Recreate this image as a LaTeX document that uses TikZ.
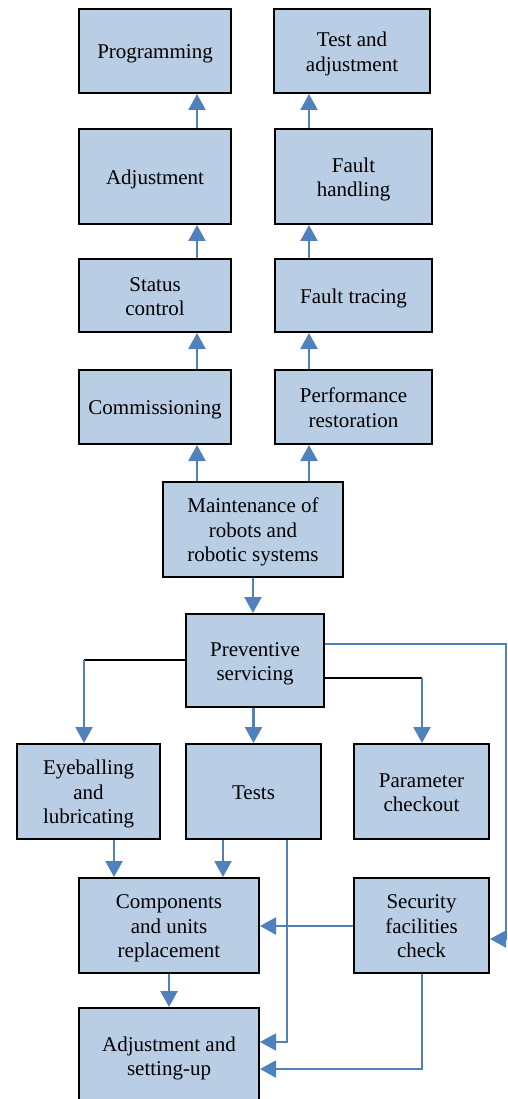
\documentclass[tikz,border=0pt]{standalone}
\usepackage{fontspec}
\setmainfont{Liberation Serif}
\usetikzlibrary{arrows.meta}
\definecolor{boxfill}{HTML}{B9CDE5}
\definecolor{arrblue}{HTML}{4F81BD}
\newcommand\bxt[1]{\raisebox{-3pt}[\height][\depth]{\begin{tabular}{@{}c@{}}#1\end{tabular}}}
\begin{document}
\begin{tikzpicture}[x=1pt,y=-1pt,
  box/.style={draw=black,line width=2pt,fill=boxfill,inner sep=0pt,
    font=\fontsize{21}{24.5}\selectfont},
  arr/.style={draw=arrblue,line width=2.4pt,-{Triangle[length=16pt,width=17pt]}},
  thinarr/.style={draw=arrblue,line width=1.6pt,-{Triangle[length=16pt,width=17pt]}},
  blk/.style={draw=black,line width=1.3pt}]
\useasboundingbox (0,0) rectangle (507,1099);
% boxes
\node[box,minimum width=152pt,minimum height=84pt] (prog) at (155,51) {\bxt{Programming}};
\node[box,minimum width=156pt,minimum height=84pt] (testadj) at (352,51) {\bxt{Test and\\adjustment}};
\node[box,minimum width=152pt,minimum height=95pt] (adj) at (155,176.5) {\bxt{Adjustment}};
\node[box,minimum width=157pt,minimum height=95pt] (fault) at (353.5,176.5) {\bxt{Fault\\handling}};
\node[box,minimum width=152pt,minimum height=73pt] (status) at (155,295.5) {\bxt{Status\\control}};
\node[box,minimum width=157pt,minimum height=73pt] (ftrace) at (353.5,295.5) {\bxt{Fault tracing}};
\node[box,minimum width=152pt,minimum height=74pt] (comm) at (155,407) {\bxt{Commissioning}};
\node[box,minimum width=157pt,minimum height=74pt] (perf) at (353.5,407) {\bxt{Performance\\restoration}};
\node[box,minimum width=180pt,minimum height=95pt] (maint) at (253,529.5) {\bxt{Maintenance of\\robots and\\robotic systems}};
\node[box,minimum width=138pt,minimum height=93pt] (prev) at (255,660.5) {\bxt{Preventive\\servicing}};
\node[box,minimum width=143pt,minimum height=95pt] (eye) at (88.5,791.5) {\bxt{Eyeballing\\and\\lubricating}};
\node[box,minimum width=135pt,minimum height=95pt] (tests) at (253.5,791.5) {\bxt{Tests}};
\node[box,minimum width=135pt,minimum height=95pt] (param) at (421.5,791.5) {\bxt{Parameter\\checkout}};
\node[box,minimum width=180pt,minimum height=95pt] (comp) at (169,925.5) {\bxt{Components\\and units\\replacement}};
\node[box,minimum width=135pt,minimum height=95pt] (sec) at (421.5,925.5) {\bxt{Security\\facilities\\check}};
\node[box,minimum width=180pt,minimum height=95pt] (adjset) at (169,1055.5) {\bxt{Adjustment and\\setting-up}};
% helper coordinates
\coordinate (cL) at (197,0);
\coordinate (cR) at (309,0);
\coordinate (pl) at (84,660);
\coordinate (pr) at (422,678);
\coordinate (pe) at (506,644);
\coordinate (pe2) at (506,939);
\coordinate (cE) at (114,0);
\coordinate (cT) at (223,0);
\coordinate (tA) at (287,1042);
\coordinate (sA) at (421.5,1069);
\coordinate (sC) at (0,926);
% upper columns
\draw[arr] (maint.north -| cL) -- (comm.south -| cL);
\draw[arr] (comm.north -| cL) -- (status.south -| cL);
\draw[arr] (status.north -| cL) -- (adj.south -| cL);
\draw[arr] (adj.north -| cL) -- (prog.south -| cL);
\draw[arr] (maint.north -| cR) -- (perf.south -| cR);
\draw[arr] (perf.north -| cR) -- (ftrace.south -| cR);
\draw[arr] (ftrace.north -| cR) -- (fault.south -| cR);
\draw[arr] (fault.north -| cR) -- (testadj.south -| cR);
% maintenance to preventive
\draw[arr] (maint.south) -- (prev.north -| maint.south);
% preventive branches
\draw[blk] (pl -| prev.west) -- (pl);
\draw[arr] (pl) -- (eye.north -| pl);
\draw[arr] (prev.south -| tests.north) -- (tests.north);
\draw[blk] (pr -| prev.east) -- (pr);
\draw[arr] (pr) -- (param.north -| pr);
\draw[thinarr] (pe -| prev.east) -- (pe) -- (pe2) -- (pe2 -| sec.east);
% lower part
\draw[arr] (eye.south -| cE) -- (comp.north -| cE);
\draw[arr] (tests.south -| cT) -- (comp.north -| cT);
\draw[arr] (comp.south) -- (adjset.north);
\draw[arr] (sC -| sec.west) -- (sC -| comp.east);
\draw[thinarr] (tests.south -| tA) -- (tA) -- (tA -| adjset.east);
\draw[thinarr,line width=2pt] (sec.south) -- (sA) -- (sA -| adjset.east);
\end{tikzpicture}
\end{document}
